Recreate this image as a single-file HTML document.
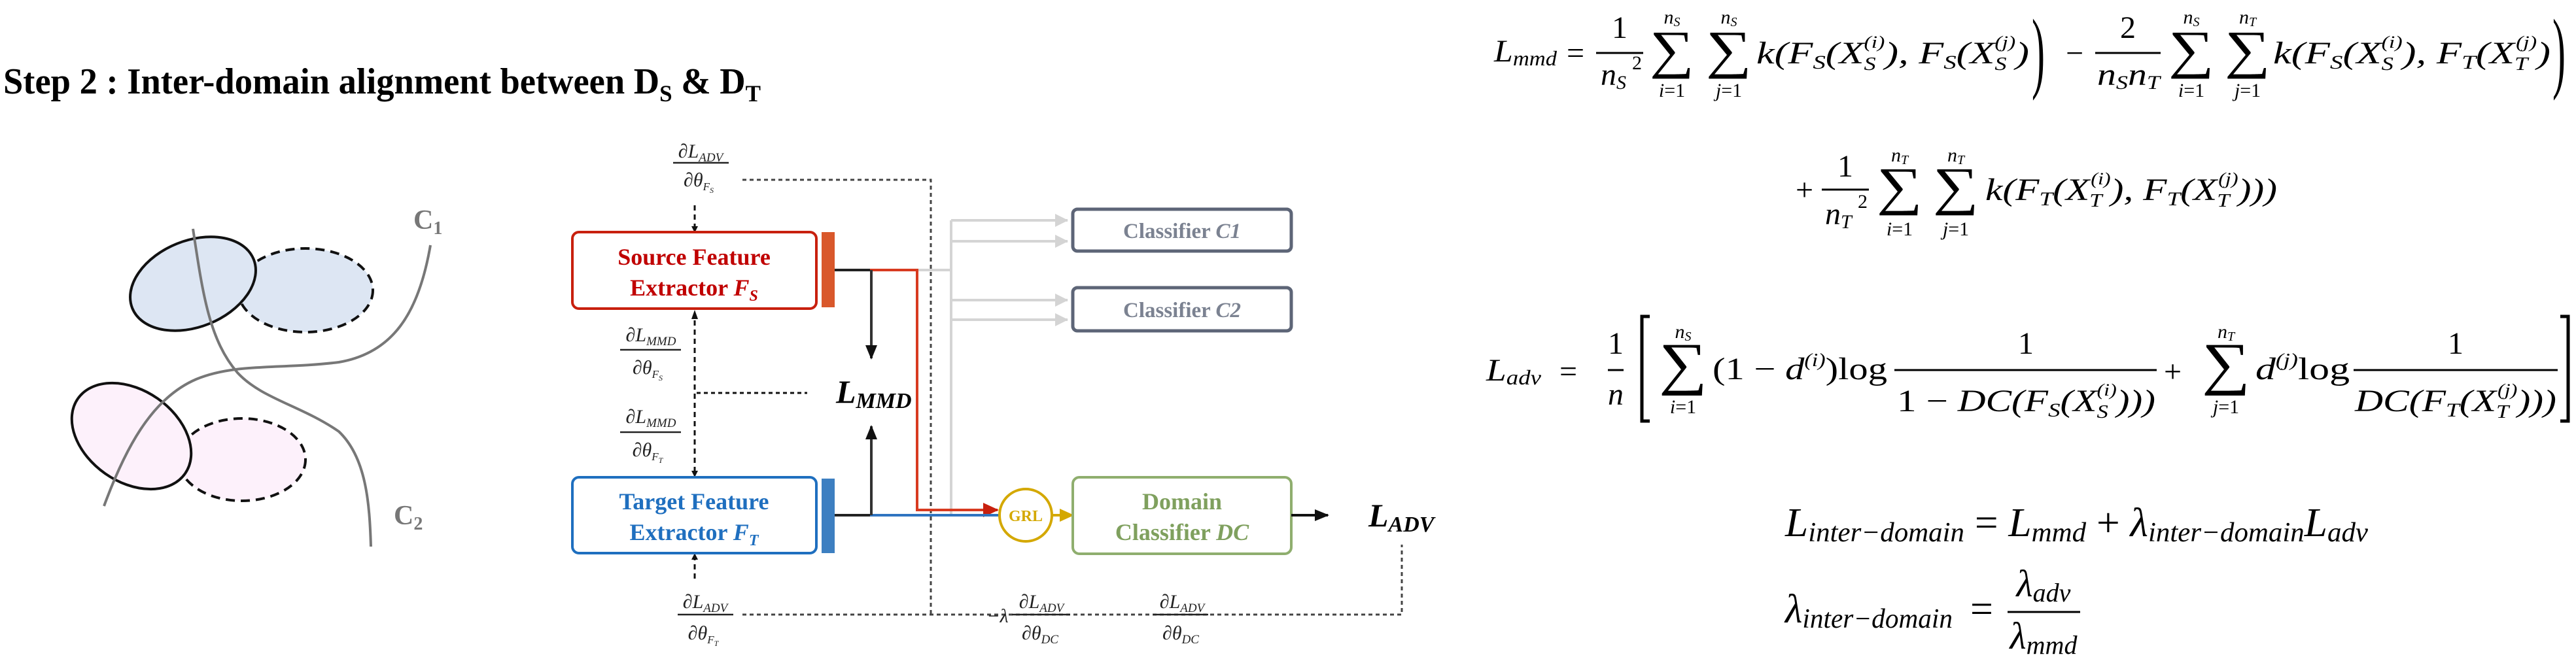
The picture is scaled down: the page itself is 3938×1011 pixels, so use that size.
<!DOCTYPE html>
<html><head><meta charset="utf-8"><style>
html,body{margin:0;padding:0;background:#fff;}
svg{display:block;}
.s{font-family:"Liberation Serif",serif;}
.i{font-family:"Liberation Serif",serif;font-style:italic;}
.sig{font-family:"Liberation Serif",serif;font-style:normal;font-size:81px;}
.sig3{font-family:"Liberation Serif",serif;font-style:normal;font-size:89px;}
</style></head><body>
<svg width="3938" height="1011" viewBox="0 0 3938 1011" xmlns="http://www.w3.org/2000/svg">
<defs>
<marker id="ab" markerWidth="10" markerHeight="10" refX="9" refY="5" orient="auto" markerUnits="userSpaceOnUse" viewBox="0 0 10 10"><path d="M0,0 L10,5 L0,10 z" fill="#111"/></marker>
<marker id="abig" markerWidth="22" markerHeight="22" refX="20" refY="11" orient="auto" markerUnits="userSpaceOnUse" viewBox="0 0 22 22"><path d="M0,2 L22,11 L0,20 z" fill="#111"/></marker>
<marker id="ag" markerWidth="20" markerHeight="22" refX="19" refY="11" orient="auto" markerUnits="userSpaceOnUse" viewBox="0 0 20 22"><path d="M0,1 L20,11 L0,21 z" fill="#d4d4d4"/></marker>
<marker id="ar" markerWidth="24" markerHeight="24" refX="22" refY="12" orient="auto" markerUnits="userSpaceOnUse" viewBox="0 0 24 24"><path d="M0,1 L24,12 L0,23 z" fill="#c8200e"/></marker>
<marker id="ay" markerWidth="22" markerHeight="22" refX="20" refY="11" orient="auto" markerUnits="userSpaceOnUse" viewBox="0 0 22 22"><path d="M0,1 L22,11 L0,21 z" fill="#d4a800"/></marker>
</defs>

<text class="s" x="5" y="143" font-size="56" font-weight="bold" textLength="1158" lengthAdjust="spacingAndGlyphs">Step 2 : Inter-domain alignment between D<tspan font-size="36" dy="12">S</tspan><tspan dy="-12"> &amp; D</tspan><tspan font-size="36" dy="12">T</tspan></text>

<g>
<ellipse cx="467" cy="444" rx="103" ry="64" fill="#dde6f3" stroke="#111" stroke-width="4" stroke-dasharray="14,9"/>
<ellipse cx="295" cy="434" rx="100" ry="66" transform="rotate(-22 295 434)" fill="#dde6f3" stroke="#111" stroke-width="4"/>
<ellipse cx="370" cy="703" rx="97" ry="63" fill="#fdf1fb" stroke="#111" stroke-width="4" stroke-dasharray="14,9"/>
<ellipse cx="201" cy="667" rx="100" ry="70" transform="rotate(35 201 667)" fill="#fdf1fb" stroke="#111" stroke-width="4"/>
<path d="M159,774 C190,690 230,610 300,580 C360,555 430,565 518,554 C600,540 640,480 658,375" fill="none" stroke="#777" stroke-width="4"/>
<path d="M295,350 C310,450 320,520 363,570 C400,610 460,620 518,660 C560,700 565,770 567,836" fill="none" stroke="#777" stroke-width="4"/>
<text class="s" x="632" y="350" font-size="42" font-weight="bold" fill="#777">C<tspan font-size="28" dy="8">1</tspan></text>
<text class="s" x="602" y="802" font-size="42" font-weight="bold" fill="#777">C<tspan font-size="28" dy="8">2</tspan></text>
</g>

<g fill="none" stroke="#444" stroke-width="3">
<path d="M1135,275 H1423 V940" stroke-dasharray="6,5"/>
<path d="M1135,940 H2143 V833" stroke-dasharray="6,5"/>
<line x1="1065" y1="601" x2="1234" y2="601" stroke-dasharray="6,5" stroke="#111"/>
<line x1="1062" y1="314" x2="1062" y2="355" stroke-dasharray="8,6" stroke="#111" marker-end="url(#ab)"/>
<line x1="1062" y1="490" x2="1062" y2="729" stroke-dasharray="8,6" stroke="#111" marker-end="url(#ab)"/>
<line x1="1062" y1="885" x2="1062" y2="847" stroke-dasharray="8,6" stroke="#111" marker-end="url(#ab)"/>
</g>
<polygon points="1062,474 1057,488 1067,488" fill="#111"/>

<g stroke="#d4d4d4" stroke-width="4" fill="none">
<path d="M1402,413 H1454 M1454,337 V788 H1402"/>
<line x1="1454" y1="337" x2="1632" y2="337" marker-end="url(#ag)"/>
<line x1="1454" y1="369" x2="1632" y2="369" marker-end="url(#ag)"/>
<line x1="1454" y1="459" x2="1632" y2="459" marker-end="url(#ag)"/>
<line x1="1454" y1="489" x2="1632" y2="489" marker-end="url(#ag)"/>
</g>

<rect x="875" y="355" width="373" height="117" rx="10" fill="#fff" stroke="#c8200e" stroke-width="4"/>
<text class="s" x="1061" y="405" font-size="36" font-weight="bold" fill="#c00000" text-anchor="middle">Source Feature</text>
<text class="s" x="1061" y="452" font-size="36" font-weight="bold" fill="#c00000" text-anchor="middle">Extractor <tspan class="i">F</tspan><tspan class="i" font-size="24" dy="8">S</tspan></text>
<rect x="1256" y="355" width="20" height="115" fill="#d9582b"/>

<rect x="875" y="730" width="373" height="116" rx="10" fill="#fff" stroke="#1f6fbf" stroke-width="4"/>
<text class="s" x="1061" y="779" font-size="36" font-weight="bold" fill="#1f6fbf" text-anchor="middle">Target Feature</text>
<text class="s" x="1061" y="826" font-size="36" font-weight="bold" fill="#1f6fbf" text-anchor="middle">Extractor <tspan class="i">F</tspan><tspan class="i" font-size="24" dy="8">T</tspan></text>
<rect x="1256" y="732" width="20" height="114" fill="#3d7fc1"/>

<line x1="1276" y1="413" x2="1332" y2="413" stroke="#222" stroke-width="4"/>
<path d="M1330,413 H1402 V780 H1525" fill="none" stroke="#d83a20" stroke-width="4" marker-end="url(#ar)"/>
<line x1="1276" y1="788" x2="1332" y2="788" stroke="#222" stroke-width="4"/>
<line x1="1330" y1="788" x2="1527" y2="788" stroke="#2f74c0" stroke-width="4"/>
<line x1="1332" y1="413" x2="1332" y2="548" stroke="#333" stroke-width="4" marker-end="url(#abig)"/>
<line x1="1332" y1="788" x2="1332" y2="652" stroke="#333" stroke-width="4" marker-end="url(#abig)"/>
<text class="i" x="1278" y="616" font-size="50" font-weight="bold">L<tspan font-size="34" dy="8">MMD</tspan></text>

<rect x="1640" y="320" width="334" height="64" rx="7" fill="#fff" stroke="#5d6577" stroke-width="5"/>
<text class="s" x="1807" y="364" font-size="33" font-weight="bold" fill="#7b8291" text-anchor="middle">Classifier <tspan class="i">C1</tspan></text>
<rect x="1640" y="440" width="334" height="66" rx="7" fill="#fff" stroke="#5d6577" stroke-width="5"/>
<text class="s" x="1807" y="485" font-size="33" font-weight="bold" fill="#7b8291" text-anchor="middle">Classifier <tspan class="i">C2</tspan></text>

<circle cx="1568" cy="788" r="40" fill="#fff" stroke="#d4a800" stroke-width="4"/>
<text class="s" x="1568" y="797" font-size="24" font-weight="bold" fill="#d4a800" text-anchor="middle">GRL</text>
<line x1="1608" y1="788" x2="1640" y2="788" stroke="#d4a800" stroke-width="4" marker-end="url(#ay)"/>
<rect x="1640" y="730" width="334" height="117" rx="10" fill="#fff" stroke="#8fae6e" stroke-width="4"/>
<text class="s" x="1807" y="779" font-size="36" font-weight="bold" fill="#7fa05e" text-anchor="middle">Domain</text>
<text class="s" x="1807" y="826" font-size="36" font-weight="bold" fill="#7fa05e" text-anchor="middle">Classifier <tspan class="i">DC</tspan></text>
<line x1="1974" y1="788" x2="2030" y2="788" stroke="#111" stroke-width="4" marker-end="url(#abig)"/>
<text class="i" x="2092" y="805" font-size="50" font-weight="bold">L<tspan font-size="34" dy="8">ADV</tspan></text>

<g class="i" font-size="30" text-anchor="middle" fill="#222">
<g>
<text x="1071" y="241">∂L<tspan font-size="19" dy="6">ADV</tspan></text>
<line x1="1029" y1="249" x2="1114" y2="249" stroke="#222" stroke-width="2.5"/>
<text x="1068" y="285">∂θ<tspan font-size="17" dy="6">F<tspan font-size="12" dy="4">S</tspan></tspan></text>
</g>
<g>
<text x="995" y="522">∂L<tspan font-size="19" dy="6">MMD</tspan></text>
<line x1="948" y1="535" x2="1041" y2="535" stroke="#222" stroke-width="2.5"/>
<text x="990" y="572">∂θ<tspan font-size="17" dy="6">F<tspan font-size="12" dy="4">S</tspan></tspan></text>
</g>
<g>
<text x="995" y="647">∂L<tspan font-size="19" dy="6">MMD</tspan></text>
<line x1="948" y1="661" x2="1041" y2="661" stroke="#222" stroke-width="2.5"/>
<text x="990" y="698">∂θ<tspan font-size="17" dy="6">F<tspan font-size="12" dy="4">T</tspan></tspan></text>
</g>
<g>
<text x="1078" y="930">∂L<tspan font-size="19" dy="6">ADV</tspan></text>
<line x1="1036" y1="940" x2="1121" y2="940" stroke="#222" stroke-width="2.5"/>
<text x="1075" y="978">∂θ<tspan font-size="17" dy="6">F<tspan font-size="12" dy="4">T</tspan></tspan></text>
</g>
<g>
<text x="1525" y="952">−λ</text>
<text x="1592" y="930">∂L<tspan font-size="19" dy="6">ADV</tspan></text>
<line x1="1547" y1="940" x2="1636" y2="940" stroke="#222" stroke-width="2.5"/>
<text x="1590" y="978">∂θ<tspan font-size="19" dy="6">DC</tspan></text>
</g>
<g>
<text x="1807" y="930">∂L<tspan font-size="19" dy="6">ADV</tspan></text>
<line x1="1763" y1="940" x2="1847" y2="940" stroke="#222" stroke-width="2.5"/>
<text x="1805" y="978">∂θ<tspan font-size="19" dy="6">DC</tspan></text>
</g>
</g>

<g class="i" font-size="48" fill="#000">
<text x="2284" y="94" textLength="96" lengthAdjust="spacingAndGlyphs">L<tspan font-size="32" dy="6">mmd</tspan></text>
<text class="s" x="2395" y="97" font-size="48" font-style="normal">=</text>
<text class="s" x="2476" y="58" font-style="normal" text-anchor="middle">1</text>
<line x1="2440" y1="81" x2="2512" y2="81" stroke="#000" stroke-width="3"/>
<text x="2447" y="130">n<tspan font-size="30" dy="6">S</tspan></text>
<text class="s" x="2495" y="106" font-size="30" font-style="normal">2</text>
<text class="sig" x="2522" y="103" textLength="68" lengthAdjust="spacingAndGlyphs">∑</text>
<text class="sig" x="2608" y="103" textLength="70" lengthAdjust="spacingAndGlyphs">∑</text>
<text x="2556" y="36" font-size="30" text-anchor="middle">n<tspan font-size="20" dy="4">S</tspan></text>
<text x="2643" y="36" font-size="30" text-anchor="middle">n<tspan font-size="20" dy="4">S</tspan></text>
<text x="2556" y="148" font-size="30" text-anchor="middle">i<tspan font-style="normal">=1</tspan></text>
<text x="2643" y="148" font-size="30" text-anchor="middle">j<tspan font-style="normal">=1</tspan></text>
<text x="2685" y="97" textLength="417" lengthAdjust="spacingAndGlyphs">k(F<tspan font-size="30" dy="8">S</tspan><tspan dy="-8">(X</tspan><tspan font-size="28" dy="10">S</tspan><tspan font-size="26" dx="-14" dy="-34">(i)</tspan><tspan dy="24">), F</tspan><tspan font-size="30" dy="8">S</tspan><tspan dy="-8">(X</tspan><tspan font-size="28" dy="10">S</tspan><tspan font-size="26" dx="-14" dy="-34">(j)</tspan><tspan dy="24">)</tspan></text>
<text class="s" x="3106" y="60" font-size="60" font-style="normal" transform="translate(0 60) scale(1 2.3) translate(0 -60)" dy="28">)</text>
<text class="s" x="3158" y="97" font-style="normal">−</text>
<text class="s" x="3253" y="58" font-style="normal" text-anchor="middle">2</text>
<line x1="3203" y1="81" x2="3303" y2="81" stroke="#000" stroke-width="3"/>
<text x="3206" y="130" textLength="96" lengthAdjust="spacingAndGlyphs">n<tspan font-size="30" dy="6">S</tspan><tspan dy="-6">n</tspan><tspan font-size="30" dy="6">T</tspan></text>
<text class="sig" x="3315" y="103" textLength="70" lengthAdjust="spacingAndGlyphs">∑</text>
<text class="sig" x="3401" y="103" textLength="70" lengthAdjust="spacingAndGlyphs">∑</text>
<text x="3350" y="36" font-size="30" text-anchor="middle">n<tspan font-size="20" dy="4">S</tspan></text>
<text x="3436" y="36" font-size="30" text-anchor="middle">n<tspan font-size="20" dy="4">T</tspan></text>
<text x="3350" y="148" font-size="30" text-anchor="middle">i<tspan font-style="normal">=1</tspan></text>
<text x="3436" y="148" font-size="30" text-anchor="middle">j<tspan font-style="normal">=1</tspan></text>
<text x="3475" y="97" textLength="424" lengthAdjust="spacingAndGlyphs">k(F<tspan font-size="30" dy="8">S</tspan><tspan dy="-8">(X</tspan><tspan font-size="28" dy="10">S</tspan><tspan font-size="26" dx="-14" dy="-34">(i)</tspan><tspan dy="24">), F</tspan><tspan font-size="30" dy="8">T</tspan><tspan dy="-8">(X</tspan><tspan font-size="28" dy="10">T</tspan><tspan font-size="26" dx="-14" dy="-34">(j)</tspan><tspan dy="24">)</tspan></text>
<text class="s" x="3902" y="60" font-size="60" font-style="normal" transform="translate(0 60) scale(1 2.3) translate(0 -60)" dy="28">)</text>

<text class="s" x="2745" y="306" font-style="normal">+</text>
<text class="s" x="2821" y="270" font-style="normal" text-anchor="middle">1</text>
<line x1="2785" y1="290" x2="2857" y2="290" stroke="#000" stroke-width="3"/>
<text x="2790" y="343">n<tspan font-size="30" dy="6">T</tspan></text>
<text class="s" x="2840" y="318" font-size="30" font-style="normal">2</text>
<text class="sig" x="2869" y="312" textLength="70" lengthAdjust="spacingAndGlyphs">∑</text>
<text class="sig" x="2955" y="312" textLength="70" lengthAdjust="spacingAndGlyphs">∑</text>
<text x="2904" y="247" font-size="30" text-anchor="middle">n<tspan font-size="20" dy="4">T</tspan></text>
<text x="2990" y="247" font-size="30" text-anchor="middle">n<tspan font-size="20" dy="4">T</tspan></text>
<text x="2904" y="360" font-size="30" text-anchor="middle">i<tspan font-style="normal">=1</tspan></text>
<text x="2990" y="360" font-size="30" text-anchor="middle">j<tspan font-style="normal">=1</tspan></text>
<text x="3035" y="306" textLength="446" lengthAdjust="spacingAndGlyphs">k(F<tspan font-size="30" dy="8">T</tspan><tspan dy="-8">(X</tspan><tspan font-size="28" dy="10">T</tspan><tspan font-size="26" dx="-14" dy="-34">(i)</tspan><tspan dy="24">), F</tspan><tspan font-size="30" dy="8">T</tspan><tspan dy="-8">(X</tspan><tspan font-size="28" dy="10">T</tspan><tspan font-size="26" dx="-14" dy="-34">(j)</tspan><tspan dy="24">)))</tspan></text>
</g>

<g class="i" font-size="48" fill="#000">
<text x="2272" y="582" textLength="84" lengthAdjust="spacingAndGlyphs">L<tspan font-size="32" dy="6">adv</tspan></text>
<text class="s" x="2384" y="584" font-style="normal">=</text>
<text class="s" x="2470" y="541" font-style="normal" text-anchor="middle">1</text>
<line x1="2458" y1="566" x2="2482" y2="566" stroke="#000" stroke-width="3"/>
<text x="2470" y="619" text-anchor="middle">n</text>
<polyline points="2522,484 2510,484 2510,644 2522,644" fill="none" stroke="#000" stroke-width="5"/>
<text class="sig3" x="2536" y="586" textLength="74" lengthAdjust="spacingAndGlyphs">∑</text>
<text x="2573" y="517" font-size="30" text-anchor="middle">n<tspan font-size="20" dy="4">S</tspan></text>
<text x="2573" y="632" font-size="30" text-anchor="middle">i<tspan font-style="normal">=1</tspan></text>
<text x="2618" y="580" textLength="267" lengthAdjust="spacingAndGlyphs"><tspan font-style="normal">(1 − </tspan>d<tspan font-size="28" dy="-20">(i)</tspan><tspan dy="20" font-style="normal">)log</tspan></text>
<text class="s" x="3097" y="541" font-style="normal" text-anchor="middle">1</text>
<line x1="2896" y1="566" x2="3297" y2="566" stroke="#000" stroke-width="3"/>
<text x="2900" y="629" textLength="395" lengthAdjust="spacingAndGlyphs"><tspan font-style="normal">1 − </tspan>DC(F<tspan font-size="30" dy="8">S</tspan><tspan dy="-8">(X</tspan><tspan font-size="28" dy="10">S</tspan><tspan font-size="26" dx="-14" dy="-34">(i)</tspan><tspan dy="24">)))</tspan></text>
<text class="s" x="3308" y="584" font-style="normal">+</text>
<text class="sig3" x="3366" y="586" textLength="74" lengthAdjust="spacingAndGlyphs">∑</text>
<text x="3403" y="517" font-size="30" text-anchor="middle">n<tspan font-size="20" dy="4">T</tspan></text>
<text x="3403" y="632" font-size="30" text-anchor="middle">j<tspan font-style="normal">=1</tspan></text>
<text x="3448" y="580" textLength="144" lengthAdjust="spacingAndGlyphs">d<tspan font-size="28" dy="-20">(j)</tspan><tspan dy="20" font-style="normal">log</tspan></text>
<text class="s" x="3754" y="541" font-style="normal" text-anchor="middle">1</text>
<line x1="3598" y1="566" x2="3910" y2="566" stroke="#000" stroke-width="3"/>
<text x="3600" y="629" textLength="308" lengthAdjust="spacingAndGlyphs">DC(F<tspan font-size="30" dy="8">T</tspan><tspan dy="-8">(X</tspan><tspan font-size="28" dy="10">T</tspan><tspan font-size="26" dx="-14" dy="-34">(j)</tspan><tspan dy="24">)))</tspan></text>
<polyline points="3914,484 3926,484 3926,644 3914,644" fill="none" stroke="#000" stroke-width="5"/>
</g>

<g class="i" fill="#000">
<text x="2729" y="820" font-size="62" textLength="891" lengthAdjust="spacingAndGlyphs">L<tspan font-size="42" dy="8">inter−domain</tspan><tspan dy="-8" font-style="normal"> = </tspan>L<tspan font-size="42" dy="8">mmd</tspan><tspan dy="-8" font-style="normal"> + </tspan>λ<tspan font-size="42" dy="8">inter−domain</tspan><tspan dy="-8">L</tspan><tspan font-size="42" dy="8">adv</tspan></text>
<text x="2729" y="952" font-size="62" textLength="256" lengthAdjust="spacingAndGlyphs">λ<tspan font-size="42" dy="8">inter−domain</tspan></text>
<text class="s" x="3008" y="952" font-size="62">=</text>
<text x="3124" y="912" font-size="58" text-anchor="middle">λ<tspan font-size="40" dy="8">adv</tspan></text>
<line x1="3069" y1="936" x2="3180" y2="936" stroke="#000" stroke-width="3"/>
<text x="3124" y="992" font-size="58" text-anchor="middle">λ<tspan font-size="40" dy="8">mmd</tspan></text>
</g>
</svg>
</body></html>
